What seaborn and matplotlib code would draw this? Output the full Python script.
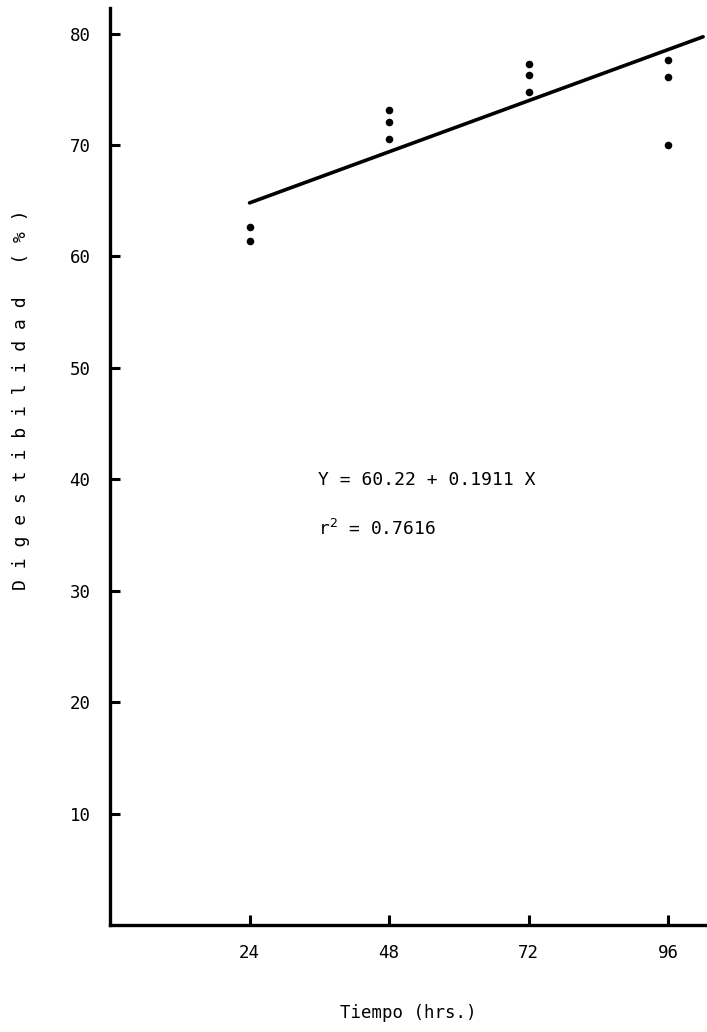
import matplotlib
matplotlib.use("Agg")
import matplotlib.pyplot as plt
import seaborn as sns
import pandas as pd

# Incubation time (hrs) and in-vitro digestibility (%) observations
tiempo = [24, 24, 48, 48, 48, 72, 72, 72, 96, 96, 96]
digestibilidad = [62.6, 61.4, 73.1, 72.1, 70.5, 77.3, 76.3, 74.8, 77.6, 76.1, 70.0]

# Fitted regression  Y = a + b X
intercepto = 60.22
pendiente = 0.1911
r2 = 0.7616
recta_x = [24, 102]

x_ticks = [24, 48, 72, 96]
y_ticks = [10, 20, 30, 40, 50, 60, 70, 80]

sns.set_style("ticks")
plt.rcParams["font.family"] = ["DejaVu Sans Mono", "DejaVu Sans"]
plt.rcParams["text.color"] = "black"
plt.rcParams["axes.labelcolor"] = "black"

fig = plt.figure(figsize=(7.07, 10.32), dpi=100)
ax = fig.add_axes([0.1556, 0.1037, 0.8430, 0.8886])

puntos = pd.DataFrame({"Tiempo": tiempo, "Digestibilidad": digestibilidad})
sns.scatterplot(data=puntos, x="Tiempo", y="Digestibilidad", ax=ax,
                color="black", s=30, marker="o", edgecolor="black", linewidth=0)

recta = pd.DataFrame({"x": recta_x,
                      "y": [intercepto + pendiente * v for v in recta_x]})
sns.lineplot(data=recta, x="x", y="y", ax=ax, color="black", linewidth=2.6)

ax.set_xlim(0, 102.5)
ax.set_ylim(0, 82.3)
ax.set_xticks(x_ticks)
ax.set_yticks(y_ticks)
ax.set_xticklabels([str(v) for v in x_ticks], fontsize=12.5)
ax.set_yticklabels([str(v) for v in y_ticks], fontsize=12.5)

sns.despine(ax=ax)
for s in ("left", "bottom"):
    ax.spines[s].set_linewidth(2.4)
    ax.spines[s].set_color("black")
ax.tick_params(axis="both", direction="in", length=7, width=2.2, colors="black")
ax.tick_params(axis="x", pad=14)
ax.tick_params(axis="y", pad=14)

ax.set_xlabel("Tiempo (hrs.)", fontsize=12.5, labelpad=30)
ax.set_ylabel("D i g e s t i b i l i d a d   ( % )", fontsize=13)
ax.yaxis.set_label_coords(-0.135, 0.5725)

ax.text(35.7, 39.9, f"Y = {intercepto:.2f} + {pendiente:.4f} X",
        fontsize=13, va="center", ha="left")
ax.text(35.7, 35.5, f"r$^2$ = {r2:.4f}", fontsize=13, va="center", ha="left")

fig.savefig("out.png", dpi=100, facecolor="white")
